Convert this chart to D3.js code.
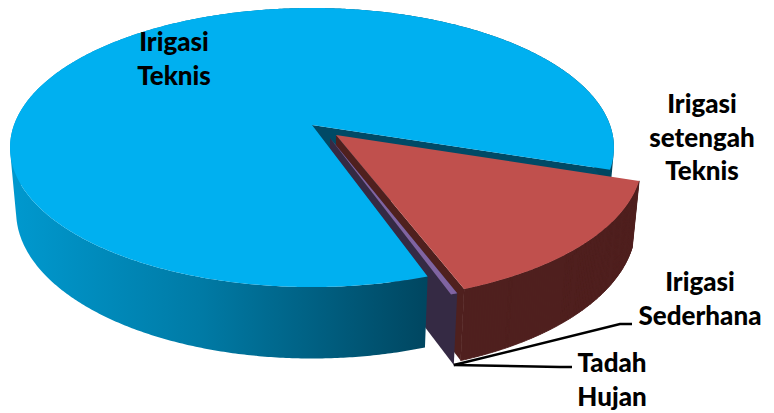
<!DOCTYPE html>
<html>
<head>
<meta charset="utf-8">
<script src="https://cdn.jsdelivr.net/npm/d3@7"></script>
<style>
html,body{margin:0;padding:0;background:#fff;}
svg{display:block;}
text{font-family:Lato,"Open Sans",sans-serif;font-weight:900;font-size:26px;fill:#000;text-anchor:middle;}
</style>
</head>
<body>
<div class="chart"></div>
<script>
var categories = ["Irigasi Teknis", "Irigasi setengah Teknis", "Irigasi Sederhana", "Tadah Hujan"];
var values = [85.4, 14.28, 0.02, 0.3];
var labelLines = [["Irigasi", "Teknis"], ["Irigasi", "setengah", "Teknis"], ["Irigasi", "Sederhana"], ["Tadah", "Hujan"]];
var labelPos = [[174, 51], [702, 113], [700, 291], [612, 372]];

var w = 774, h = 413;
var svg = d3.select("div.chart").append("svg").attr("width", w).attr("height", h);

var rad = Math.PI / 180;

// perspective of a unit disc seen from above, depth 0 is the top face and 1 the floor
var cam = {cx: 312, cy: 125, a: 298, b: 135.9, k: 0.1614, c: 64.6, m: 0.02};
function project(X, Y, depth) {
  var s = 1 - cam.k * Y + cam.m * depth;
  return [cam.cx + cam.a * X / s, cam.cy + (cam.b * Y + cam.c * depth) / s];
}

var pie = d3.pie().sort(null).startAngle(160.8 * rad).endAngle(520.8 * rad);
var arcs = pie(values);

// exploded offset of each slice in disc units
var explode = [[0, 0], [0.0796, 0.0727], [0.0595, 0.094], [0.0595, 0.094]];

function rimPoint(i, angle, depth) {
  var t = angle - Math.PI / 2, o = explode[i];
  return project(o[0] + Math.cos(t), o[1] + Math.sin(t), depth);
}
function apex(i, depth) {
  return project(explode[i][0], explode[i][1], depth);
}
function rim(i, a0, a1, depth) {
  var n = Math.max(2, Math.ceil((a1 - a0) / (0.5 * rad)));
  return d3.range(n + 1).map(function(j) {
    return rimPoint(i, a0 + (a1 - a0) * j / n, depth);
  });
}
var line = d3.line();
function poly(pts, fill) {
  return svg.append("path").attr("d", line(pts) + "Z").attr("fill", fill);
}
function topFace(i, fill) {
  var d = arcs[i];
  return poly([apex(i, 0)].concat(rim(i, d.startAngle, d.endAngle, 0)), fill);
}
// wall built from small quads all wound the same way, so the side silhouette stays filled
function outerWall(i, a0, a1, fill) {
  var top = rim(i, a0, a1, 0), bottom = rim(i, a0, a1, 1), d = "";
  for (var j = 0; j < top.length - 1; j++) {
    var quad = [top[j], top[j + 1], bottom[j + 1], bottom[j]];
    if (d3.polygonArea(quad) < 0) quad.reverse();
    d += line(quad) + "Z";
  }
  return svg.append("path").attr("d", d).attr("fill", fill);
}
// side wall along a radius of the slice
function sideWall(i, angle, fill) {
  return poly([apex(i, 0), rimPoint(i, angle, 0), rimPoint(i, angle, 1), apex(i, 1)], fill);
}

var defs = svg.append("defs");
var grad = defs.append("linearGradient").attr("id", "rimBlue")
  .attr("gradientUnits", "userSpaceOnUse")
  .attr("x1", 10).attr("x2", 428).attr("y1", 0).attr("y2", 0);
grad.append("stop").attr("offset", 0).attr("stop-color", "#0099cf");
grad.append("stop").attr("offset", 0.45).attr("stop-color", "#007ba6");
grad.append("stop").attr("offset", 1).attr("stop-color", "#004660");

var blue = arcs[0], red = arcs[1], purple = arcs[3];

// back to front
sideWall(0, blue.endAngle, "#004a66");
sideWall(1, red.endAngle, "#4f201e");
sideWall(3, purple.startAngle, "#352a44");
outerWall(0, blue.startAngle, blue.endAngle, "url(#rimBlue)");
topFace(0, "#00b0f0");
topFace(3, "#8064a2");
// thin stroke closes the seam between the red wall and its side wall
outerWall(1, red.startAngle, red.endAngle, "#4f201e").attr("stroke", "#4f201e").attr("stroke-width", 0.8);
topFace(1, "#c0504d");

// leader lines, from the foot of the thin slices to their labels
var foot = rimPoint(3, purple.startAngle, 1);
var leaders = [
  {label: 2, x1: 632, x2: 620, y: 324},
  {label: 3, x1: 572, x2: 560, y: 367}
];
leaders.forEach(function(l) {
  svg.append("path")
    .attr("d", line([foot, [l.x2, l.y], [l.x1, l.y]]))
    .attr("fill", "none").attr("stroke", "#000").attr("stroke-width", 2.4);
});

// labels
categories.forEach(function(c, i) {
  var t = svg.append("text").attr("x", labelPos[i][0]).attr("y", labelPos[i][1]);
  labelLines[i].forEach(function(s, j) {
    t.append("tspan").attr("x", labelPos[i][0]).attr("y", labelPos[i][1] + j * 33.7).text(s);
  });
});
</script>
</body>
</html>
